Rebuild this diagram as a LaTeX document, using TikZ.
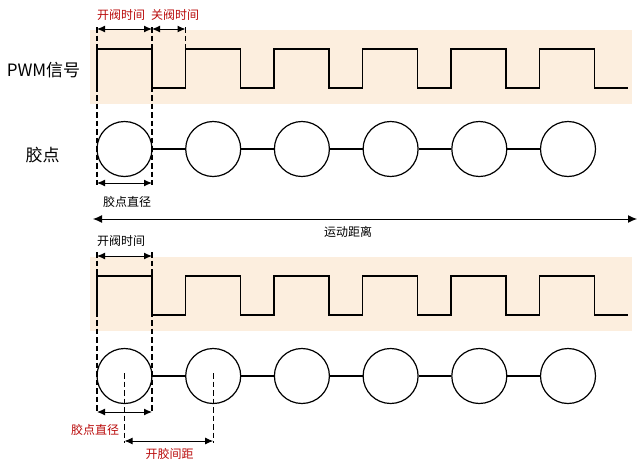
\documentclass[tikz,border=0pt]{standalone}
\usepackage{fontspec}
\newfontfamily\cjk{Noto Sans CJK SC}
\usetikzlibrary{arrows.meta}
\definecolor{bandcol}{RGB}{252,238,222}
\definecolor{notered}{RGB}{185,10,10}
\newcommand*{\prd }{88.5}
\newcommand*{\yhi }{49}
\newcommand*{\ylo }{88}
\newcommand*{\ydot}{149}
\newcommand*{\gap }{88.7}
\newcommand*{\shf }{227}
\newcommand*{\bigfont}{\fontsize{17}{20}\selectfont}

\begin{document}
\begin{tikzpicture}[x=1pt, y=-1pt, font=\cjk\fontsize{12}{14}\selectfont,
    band/.style  = {fill=bandcol, draw=none},
    wave/.style  = {line width=1.3pt},
    dot/.style   = {circle, draw, line width=1.2pt, minimum size=55pt, inner sep=0pt},
    guide/.style = {line width=1.1pt, dash pattern=on 5.5pt off 3pt},
    dim/.style   = {{Latex[length=8pt,width=7pt]}-{Latex[length=8pt,width=7pt]}, line width=1pt},
    note/.style  = {text=notered}]
    \useasboundingbox (0,0) rectangle (643,469);
    % both panels: band, PWM wave, glue dots
    \foreach \p/\dy in {t/0, b/\shf} {
        \begin{scope}[shift={(0,\dy)}]
            \fill [band] (90,30) rectangle (632,104);
            \draw [wave] (97,\ylo) \foreach \k in {0,...,5} { -- ({97+\k*\prd},\yhi) -- ({152+\k*\prd},\yhi) -- ({152+\k*\prd},\ylo) -- ({185.5+\k*\prd},\ylo) };
            \foreach \i in {1,...,6}
                \node [dot] (\p\i) at ({124.5+(\i-1)*\gap},\ydot) {};
            \foreach \i [count=\j from 2] in {1,...,5}
                \draw [line width=1.2pt] (\p\i) -- (\p\j);
        \end{scope}
    }
    \node (sig)    at (43.5, 70) {\bigfont PWM信号};
    \node (dotlbl) at (42.5,155) {\bigfont 胶点};
    % upper panel
    \coordinate (tA0) at (97,27);    \coordinate (tA1) at (97,185);
    \coordinate (tB0) at (152,27);   \coordinate (tB1) at (152,185);
    \coordinate (tC0) at (185.5,27); \coordinate (tC1) at (185.5,\yhi);
    \draw [guide] (tA0) -- (tA1);
    \draw [guide] (tB0) -- (tB1);
    \draw [guide] (tC0) -- (tC1);
    \coordinate (onA)  at (97,29);
    \coordinate (onB)  at (152,29);
    \coordinate (offB) at (185.5,29);
    \draw [dim] (onA) -- (onB);
    \draw [dim] (onB) -- (offB);
    \node [note] (onlbl)  at (121,15) {开阀时间};
    \node [note] (offlbl) at (175,15) {关阀时间};
    \coordinate (diaA) at (97,183);
    \coordinate (diaB) at (152,183);
    \draw [dim] (diaA) -- (diaB);
    \node (dialbl) at (127,202) {胶点直径};
    \coordinate (runA) at (93,219);
    \coordinate (runB) at (637,219);
    \draw [{Latex[length=9pt,width=8pt]}-{Latex[length=9pt,width=8pt]}, line width=1pt] (runA) -- (runB);
    \node (runlbl) at (348,232) {运动距离};
    % lower panel
    \coordinate (bA0) at (97,252);  \coordinate (bA1) at (97,413);
    \coordinate (bB0) at (152,252); \coordinate (bB1) at (152,413);
    \draw [guide] (bA0) -- (bA1);
    \draw [guide] (bB0) -- (bB1);
    \coordinate (bonA) at (97,256);
    \coordinate (bonB) at (152,256);
    \draw [dim] (bonA) -- (bonB);
    \node (bonlbl) at (121,241) {开阀时间};
    \coordinate (bdiaA) at (97,412);
    \coordinate (bdiaB) at (152,412);
    \draw [dim] (bdiaA) -- (bdiaB);
    \node [note] (bdialbl) at (95,430) {胶点直径};
    \path (b1.center) ++(0,-3) coordinate (cA0) ++(0,70) coordinate (cA1);
    \path (b2.center) ++(0,-3) coordinate (cB0) ++(0,70) coordinate (cB1);
    \draw [guide] (cA0) -- (cA1);
    \draw [guide] (cB0) -- (cB1);
    \path (cA1) ++(0,-2) coordinate (gapA);
    \path (cB1) ++(0,-2) coordinate (gapB);
    \draw [dim] (gapA) -- (gapB);
    \node [note] (gaplbl) at (169.5,454) {开胶间距};
\end{tikzpicture}
\end{document}
